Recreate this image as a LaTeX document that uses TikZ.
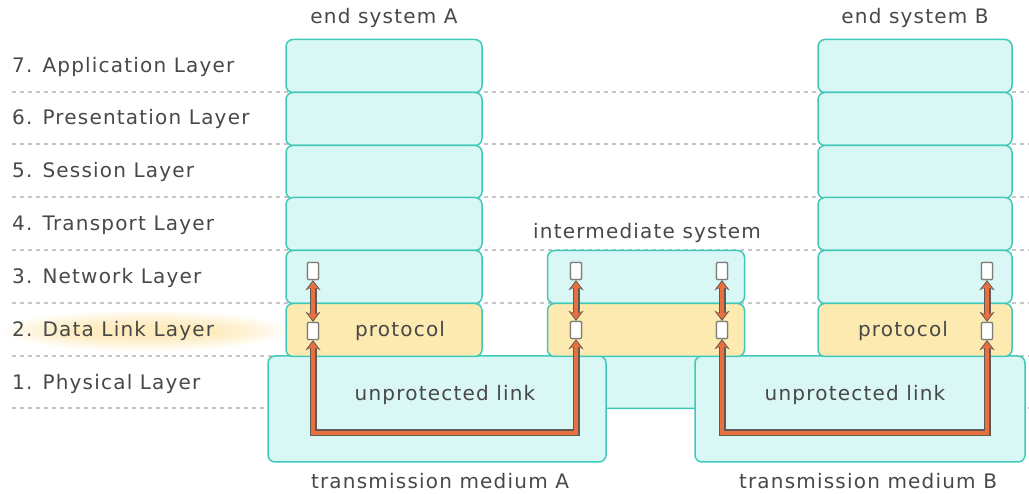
\documentclass[tikz,border=0pt]{standalone}
\usepackage{fontspec}
\setmainfont[LetterSpace=6]{DejaVu Sans}
\usetikzlibrary{arrows.meta}

\definecolor{boxfill}{RGB}{217,247,245}
\definecolor{boxline}{RGB}{64,200,184}
\definecolor{linkfill}{RGB}{252,234,176}
\definecolor{txtgray}{RGB}{72,72,72}
\definecolor{wire}{RGB}{232,112,62}
\definecolor{wireedge}{RGB}{95,90,85}
\definecolor{glow}{RGB}{252,214,120}

\tikzstyle{layer}=[draw=boxline,fill=boxfill,line width=1.5pt,rounded corners=7pt,inner sep=0pt,minimum height=53pt]
\tikzstyle{linklayer}=[layer,fill=linkfill]
\tikzstyle{port}=[draw=wireedge!80,fill=white,line width=1.3pt,minimum width=11pt,minimum height=17pt,inner sep=0pt,rounded corners=1pt]
\tikzstyle{sep}=[draw=black!22,line width=1.5pt,dash pattern=on 4pt off 4pt]
\tikzstyle{layername}=[anchor=west,text=txtgray,inner sep=0pt]
\tikzstyle{caption}=[text=txtgray,inner sep=0pt]
\tikzstyle{wireback}=[draw=wireedge,line width=7pt,line join=miter,arrows={Stealth[length=10pt,width=15pt]-Stealth[length=10pt,width=15pt]}]
\tikzstyle{wirefront}=[draw=wire,line width=4.5pt,line join=miter,shorten <=1.5pt,shorten >=1.5pt,arrows={Stealth[length=7.5pt,width=11pt]-Stealth[length=7.5pt,width=11pt]}]

\newcommand{\wire}[1]{\draw[wireback] #1; \draw[wirefront] #1;}

\begin{document}
\begin{tikzpicture}[x=1pt,y=-1pt,font=\fontsize{20}{24}\selectfont]
    \useasboundingbox (0,0) rectangle (1029,494);

    % highlight behind the data link row name
    \foreach \k in {0,...,7}
        \fill[glow,opacity=0.08] (145,331) ellipse [x radius=140-9*\k, y radius=20-2*\k];

    % layer separators
    \foreach \y in {92,144,197,250,303,356,408}
        \draw[sep] (12,\y) -- (1029,\y);

    % physical layer: two media and the link between them
    \node[layer,minimum width=110pt,minimum height=53pt] (bridge) at (650,382) {};
    \node[layer,minimum width=338pt,minimum height=106pt] (ma) at (437,409) {};
    \node[layer,minimum width=330pt,minimum height=106pt] (mb) at (860,409) {};

    % end systems
    \foreach \n/\y in {7/66,6/119,5/172,4/224,3/277} {
        \node[layer,minimum width=196pt] (a\n) at (384,\y) {};
        \node[layer,minimum width=194pt] (b\n) at (915,\y) {};
    }
    \node[linklayer,minimum width=196pt] (a2) at (384,330) {};
    \node[linklayer,minimum width=194pt] (b2) at (915,330) {};

    % intermediate system
    \node[layer,minimum width=197pt] (i3) at (646,277) {};
    \node[linklayer,minimum width=197pt] (i2) at (646,330) {};

    % ports
    \node[port] (pa3) at (313,271) {};
    \node[port] (pa2) at (313,331) {};
    \node[port] (pil3) at (576,271) {};
    \node[port] (pil2) at (576,330) {};
    \node[port] (pir3) at (722,271) {};
    \node[port] (pir2) at (722,330) {};
    \node[port] (pb3) at (987,271) {};
    \node[port] (pb2) at (987,331) {};
    \coordinate (low) at (0,433);

    \wire{(pa3.south) -- (pa2.north)}
    \wire{(pil3.south) -- (pil2.north)}
    \wire{(pir3.south) -- (pir2.north)}
    \wire{(pb3.south) -- (pb2.north)}
    \wire{(pa2.south) -- (pa2.south |- low) -| (pil2.south)}
    \wire{(pir2.south) -- (pir2.south |- low) -| (pb2.south)}

    % redraw ports over the wire tips
    \foreach \p in {pa3,pa2,pil3,pil2,pir3,pir2,pb3,pb2}
        \node[port] at (\p) {};

    % texts
    \node[layername] (l7) at (12,67) {7. Application Layer};
    \node[layername] (l6) at (12,119) {6. Presentation Layer};
    \node[layername] (l5) at (12,172) {5. Session Layer};
    \node[layername] (l4) at (12,225) {4. Transport Layer};
    \node[layername] (l3) at (12,278) {3. Network Layer};
    \node[layername] (l2) at (12,331) {2. Data Link Layer};
    \node[layername] (l1) at (12,384) {1. Physical Layer};

    \node[caption] at (384,18) {end system A};
    \node[caption] at (915,18) {end system B};
    \node[caption] at (647,233) {intermediate system};
    \node[caption] at (400,331) {protocol};
    \node[caption] at (903,331) {protocol};
    \node[caption] at (445,395) {unprotected link};
    \node[caption] at (855,395) {unprotected link};
    \node[caption] at (440,481) {transmission medium A};
    \node[caption] at (868,481) {transmission medium B};
\end{tikzpicture}
\end{document}
